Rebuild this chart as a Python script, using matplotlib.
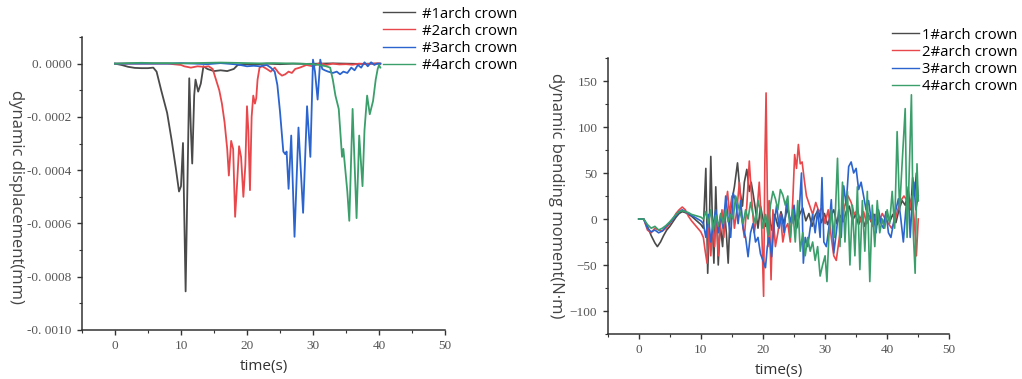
import matplotlib
matplotlib.use("Agg")
import matplotlib.pyplot as plt
from matplotlib.ticker import MultipleLocator, FuncFormatter

# ---------------- dynamic displacement (mm) ----------------
disp_labels = ["#1arch crown", "#2arch crown", "#3arch crown", "#4arch crown"]

disp_t1 = [0, 1, 2, 3, 4, 5, 5.8, 6.3, 7.0, 7.9, 8.6, 9.2, 9.7, 10.0, 10.3,
           10.7, 11.25, 11.5, 11.7, 12.0, 12.2, 12.6, 13.0, 13.4, 14.0, 15.0,
           16.0, 17.0, 18.0, 18.6, 19.5, 21, 23, 25, 27, 29, 31, 33, 35, 37,
           39, 40.2]
disp_v1 = [0, -0.05e-4, -0.12e-4, -0.16e-4, -0.17e-4, -0.17e-4, -0.15e-4,
           -0.3e-4, -1.0e-4, -1.85e-4, -2.9e-4, -3.9e-4, -4.8e-4, -4.6e-4,
           -2.98e-4, -8.55e-4, -0.55e-4, -2.5e-4, -3.75e-4, -1.2e-4, -0.6e-4,
           -1.05e-4, -0.75e-4, -0.1e-4, -0.2e-4, -0.28e-4, -0.25e-4, -0.28e-4,
           -0.2e-4, -0.05e-4, -0.02e-4, -0.03e-4, 0, -0.02e-4, 0, -0.01e-4, 0,
           0.01e-4, 0, -0.01e-4, 0, 0]

disp_t2 = [0, 2, 4, 6, 8, 10, 10.5, 11.5, 12.5, 13.5, 14.2, 14.8, 15.3, 15.8,
           16.2, 16.6, 17.0, 17.25, 17.6, 17.9, 18.2, 18.5, 18.8, 19.1, 19.45,
           19.75, 20.0, 20.2, 20.45, 20.7, 20.95, 21.2, 21.4, 21.6, 21.9, 22.3,
           23.0, 23.6, 24.2, 24.8, 25.3, 25.8, 26.3, 26.8, 27.3, 28, 29, 30, 31,
           32, 33, 34, 35, 36, 37, 38, 39, 40, 40.2]
disp_v2 = [0, 0, 0, 0, 0, -0.05e-4, -0.1e-4, -0.15e-4, -0.1e-4, -0.12e-4,
           -0.1e-4, -0.2e-4, -0.6e-4, -1.0e-4, -1.5e-4, -2.2e-4, -3.2e-4,
           -4.2e-4, -2.9e-4, -3.2e-4, -5.75e-4, -4.5e-4, -3.1e-4, -3.5e-4,
           -5.0e-4, -3.8e-4, -1.6e-4, -2.5e-4, -4.75e-4, -2.0e-4, -1.2e-4,
           -1.5e-4, -1.3e-4, -0.6e-4, -0.15e-4, -0.1e-4, -0.2e-4, -0.3e-4,
           -0.15e-4, -0.35e-4, -0.45e-4, -0.4e-4, -0.3e-4, -0.35e-4, -0.2e-4,
           -0.15e-4, -0.05e-4, -0.1e-4, 0.02e-4, -0.05e-4, 0, -0.03e-4,
           -0.02e-4, -0.04e-4, 0, -0.02e-4, 0, 0.01e-4, 0]

disp_t3 = [0, 2, 4, 6, 8, 10, 12, 14, 16, 18, 19, 20, 21, 22, 23, 23.6, 24.2,
           24.6, 25.0, 25.5, 25.8, 26.0, 26.3, 26.7, 27.2, 27.8, 28.5, 29.1,
           29.6, 30.0, 30.3, 30.7, 31.1, 31.4, 31.8, 32.3, 33, 33.6, 34.1,
           34.6, 35.2, 35.8, 36.3, 36.8, 37.3, 37.8, 38.3, 38.8, 39.3, 39.7,
           40.2]
disp_v3 = [0, 0, 0, 0, 0, 0.02e-4, 0, -0.02e-4, 0.02e-4, -0.02e-4, -0.05e-4,
           -0.1e-4, -0.08e-4, -0.1e-4, -0.05e-4, -0.15e-4, -0.3e-4, -0.8e-4,
           -1.8e-4, -3.3e-4, -3.4e-4, -3.3e-4, -4.7e-4, -2.7e-4, -6.5e-4,
           -2.4e-4, -5.6e-4, -1.6e-4, -3.5e-4, 0.15e-4, -0.3e-4, -1.35e-4,
           0.15e-4, -0.2e-4, -0.25e-4, -0.3e-4, -0.35e-4, -0.3e-4, -0.4e-4,
           -0.3e-4, -0.35e-4, -0.15e-4, -0.25e-4, -0.05e-4, -0.15e-4, 0.05e-4,
           -0.1e-4, 0.05e-4, -0.05e-4, 0, 0]

disp_t4 = [0, 2, 4, 6, 8, 10, 12, 14, 16, 18, 20, 22, 24, 26, 28, 30, 31, 32,
           32.6, 33.0, 33.4, 33.9, 34.4, 34.6, 34.9, 35.2, 35.5, 36.0, 36.6,
           37.0, 37.5, 37.8, 38.2, 38.6, 39.1, 39.5, 39.8, 40.0, 40.2]
disp_v4 = [0, 0.02e-4, 0.03e-4, 0.02e-4, 0.02e-4, 0.01e-4, 0.02e-4, 0.03e-4,
           0.04e-4, 0.03e-4, 0.02e-4, 0.01e-4, 0.02e-4, 0.01e-4, 0, -0.02e-4,
           -0.05e-4, -0.1e-4, -0.15e-4, -0.6e-4, -1.2e-4, -1.7e-4, -3.5e-4,
           -3.2e-4, -4.0e-4, -4.8e-4, -5.9e-4, -1.7e-4, -5.8e-4, -2.7e-4,
           -4.6e-4, -2.5e-4, -1.2e-4, -1.9e-4, -1.4e-4, -0.6e-4, -0.2e-4,
           -0.05e-4, -0.15e-4]

# ---------------- dynamic bending moment (N·m) ----------------
moment_labels = ["1#arch crown", "2#arch crown", "3#arch crown", "4#arch crown"]

mom_t1 = [0, 0.8, 1.4, 2.0, 2.6, 3.0, 3.5, 4.0, 4.5, 5.0, 5.5, 6.0, 6.5, 7.0,
          7.5, 8.0, 8.5, 9.0, 9.5, 10.0,
          10.4, 10.8, 11.1, 11.4, 11.6, 11.9, 12.1, 12.4, 12.8, 13.1, 13.5,
          13.8, 14.1, 14.4, 14.7,
          15.0, 15.4, 15.9, 16.3, 16.7, 17.0, 17.4, 17.8, 18.1, 18.4, 18.8,
          19.2, 19.6, 20.0,
          20.4, 20.9, 21.4, 21.9, 22.4, 22.9, 23.4, 23.9, 24.4, 24.9, 25.4,
          25.9, 26.4, 26.9, 27.4, 27.9, 28.4, 28.9, 29.4, 29.9, 30.4, 30.9,
          31.4, 31.9, 32.4, 32.9, 33.4, 33.9, 34.4, 34.9, 35.4, 35.9, 36.4,
          36.9, 37.4, 37.9, 38.4, 38.9, 39.4, 39.9, 40.4, 40.9, 41.4, 41.9,
          42.4, 42.9, 43.4, 43.8, 44.1, 44.4, 44.7, 45.0]
mom_v1 = [0, 0, -8, -18, -26, -30, -25, -18, -12, -8, -3, 2, 6, 8,
          7, 5, 3, 0, -3, -6,
          -10, 55, -59, 5, 68, -15, -48, 35, -50, -5, -30,
          10, -15, -48, 5,
          20, 35, 61, 30, 14, 40, 54, 30, 40, 28, 10,
          -10, 14, 0,
          -8, 10, -12, 5, -8, 8, -5, 12, -3, 8, -10,
          5, 12, -2, 6, -8, 4, 10, -4, 6, -6, 3,
          10, -5, 4, -3, 8, 14, -2, 5, -6, 4, -8,
          6, -3, 5, -6, 2, -5, 8, -3, 5, -4, 10,
          20, 15, 30, 10, 45, 25, 50, 20]

mom_t2 = [0, 0.8, 1.4, 2.0, 2.6, 3.2, 3.8, 4.4, 5.0, 5.5, 6.0, 6.5, 7.0, 7.5,
          8.0, 8.5, 9.0, 9.5, 10.0,
          10.4, 10.7, 11.0, 11.3, 11.6, 11.9, 12.2, 12.5, 12.8, 13.1, 13.4,
          13.7, 14.0, 14.3, 14.6,
          15.0, 15.4, 15.8, 16.2, 16.6, 17.0, 17.4, 17.8, 18.2, 18.6, 19.0,
          19.4, 19.8,
          20.1, 20.3, 20.5, 20.8, 21.0, 21.3, 21.6, 22.0, 22.4, 22.8, 23.2,
          23.6,
          24.0, 24.4, 24.8, 25.1, 25.4, 25.7, 26.0, 26.3, 26.7, 27.0, 27.5,
          28.0, 28.5, 29.0, 29.5, 30.0, 30.5, 31.0, 31.4, 31.8, 32.2, 32.7,
          33.2, 33.7, 34.2, 34.7, 35.2, 35.7, 36.2, 36.7, 37.2, 37.7, 38.2,
          38.7, 39.2, 39.7, 40.2, 40.7, 41.2, 41.7, 42.2, 42.7, 43.2, 43.6,
          44.0, 44.4, 44.7, 45.0]
mom_v2 = [0, 0, -12, -15, -10, -12, -13, -10, -5, 0, 6, 10, 13, 10,
          3, -2, -6, -10, -14,
          -20, -35, -48, -10, -40, -5, -30, 5, -40, -10, 10,
          -20, 15, 30, 5,
          25, -10, 10, 40, 0, -20, 15, 63, 20, -15, 5,
          40, -10,
          -84, 60, 137, -30, 20, -66, 10, -30, -15, 5, -25,
          -10,
          -5, -25, 20, 70, 55, 81, 60, 62, 40, 25, 15,
          5, 18, 8, 12, -5, 10, -20, -40, -45, -25, 0,
          15, 25, 18, 5, 10, -3, 8, -5, 3, -8, 5,
          -3, 6, 0, -5, -10, -3, 10, 20, 25, 20, 10,
          25, -5, -40, 0]

mom_t3 = [0, 0.8, 1.4, 2.0, 2.6, 3.2, 3.8, 4.4, 5.0, 5.5, 6.0, 6.5, 7.0, 7.5,
          8.0, 8.5, 9.0, 9.5, 10.0,
          10.4, 10.8, 11.2, 11.6, 12.0, 12.4, 12.8, 13.2, 13.6, 14.0, 14.4,
          14.8, 15.2, 15.6, 16.0, 16.4, 16.8, 17.2, 17.6, 18.0, 18.4, 18.8,
          19.2, 19.6, 20.0, 20.4, 20.7, 21.0, 21.4, 21.8, 22.2, 22.6, 23.0,
          23.4, 23.8, 24.2, 24.6, 25.0, 25.4, 25.8, 26.2, 26.5, 26.8, 27.2,
          27.6, 28.0, 28.4, 28.8, 29.2, 29.5, 29.8,
          30.2, 30.6, 31.0, 31.4, 31.8, 32.2, 32.6, 33.0, 33.4, 33.8, 34.2,
          34.6, 35.0, 35.4, 35.8, 36.2, 36.6, 37.0, 37.4, 37.8, 38.2, 38.6,
          39.0, 39.4, 39.8, 40.2, 40.6, 41.0, 41.4, 41.8, 42.2, 42.6, 43.0,
          43.4, 43.7, 44.0, 44.3, 44.6, 45.0]
mom_v3 = [0, 0, -10, -14, -12, -15, -13, -8, -4, 0, 4, 8, 10, 8,
          6, 4, 2, 0, -2,
          -5, -20, 5, -25, -5, 10, -15, 5, -10, 25, 0,
          -20, 28, 20, -5, 20, -10, -20, -41, -15, -5, -25,
          -20, -38, -45, -53, -30, -20, -41, -5, 15, -10, 5,
          -15, 20, 5, -5, 15, -10, 5, 50, -48, -20, -30,
          -10, 5, -15, 10, -20, 45, -25,
          -30, -10, 21, -37, -15, 10, -20, 36, 15, 57, 62,
          50, 55, 32, 40, 25, 10, 20, 0, 5, -15, 10,
          -5, -10, 8, -15, -20, -5, 10, 22, 0, -25, 10,
          35, -20, 15, 40, 10, 25]

mom_t4 = [0, 0.8, 1.4, 2.0, 2.6, 3.2, 3.8, 4.4, 5.0, 5.5, 6.0, 6.5, 7.0, 7.5,
          8.0, 8.5, 9.0, 9.5, 10.0,
          10.4, 10.8, 11.2, 11.6, 12.0, 12.4, 12.8, 13.2, 13.6, 14.0, 14.4,
          14.8, 15.2, 15.6, 16.0, 16.4, 16.8, 17.2, 17.6, 18.0, 18.4, 18.8,
          19.2, 19.6, 20.0, 20.4, 20.8, 21.2, 21.6, 22.0, 22.4, 22.8, 23.2,
          23.6, 24.0, 24.4, 24.8, 25.2, 25.6, 26.0, 26.4, 26.8, 27.2, 27.6,
          28.0, 28.4, 28.8, 29.2, 29.6, 30.0, 30.3, 30.6,
          31.0, 31.5, 32.0, 32.4, 32.8, 33.2, 33.6, 34.0, 34.4, 34.8, 35.2,
          35.6, 36.0, 36.4, 36.8, 37.2, 37.6, 38.0, 38.4, 38.8, 39.2, 39.6,
          40.0, 40.4, 40.8, 41.2, 41.6, 42.0, 42.4, 42.9, 43.2, 43.5, 43.9,
          44.2, 44.5, 44.8, 45.0]
mom_v4 = [0, 0, -6, -10, -8, -12, -10, -7, -3, 1, 5, 8, 9, 8,
          7, 5, 4, 3, 2,
          0, 8, -5, 10, -12, 4, -8, 6, -5, 10, -3,
          5, 0, 25, 15, 5, -5, 10, 0, 18, 5, -5,
          20, 8, -10, 5, -18, 15, 30, 22, 10, 32, 26,
          15, 25, -20, 10, -25, 20, -35, -15, -40, -20, -35,
          -25, -45, -30, -62, -50, -40, -68, -20,
          10, -20, 66, -30, 40, -25, 30, -50, 15, -40, 35,
          -55, 20, -35, 30, -68, 15, -30, 20, -15, 0, -10,
          10, -5, 30, -10, 95, 10, 60, 120, -20, 40, 135,
          -15, -59, 60, 20]

colors = ["#4a4a4a", "#e8474b", "#2b64cf", "#3a9f6b"]

TICK_FAMILY = "Liberation Serif"
TEXT_FAMILY = "Open Sans"
W, H = 1022, 379

fig = plt.figure(figsize=(W / 100, H / 100), dpi=100)
ax1 = fig.add_axes([82 / W, 1 - 330 / H, 363 / W, 293 / H])
ax2 = fig.add_axes([607.7 / W, 1 - 334 / H, 341.6 / W, 276 / H])


def style_axes(ax):
    for side in ("top", "right"):
        ax.spines[side].set_visible(False)
    for side in ("left", "bottom"):
        ax.spines[side].set_color("#333333")
        ax.spines[side].set_linewidth(1.1)
    ax.tick_params(which="major", direction="out", length=3.5, width=1.0,
                   color="#333333", pad=4)
    ax.tick_params(which="minor", direction="out", length=2, width=0.8,
                   color="#333333")
    ax.xaxis.set_major_locator(MultipleLocator(10))
    ax.xaxis.set_minor_locator(MultipleLocator(5))
    ax.set_xlim(-5, 50)
    for lbl in ax.get_xticklabels() + ax.get_yticklabels():
        lbl.set_fontfamily(TICK_FAMILY)
        lbl.set_fontsize(9.5)
        lbl.set_color("#555555")
    ax.set_xlabel("time(s)", fontfamily=TEXT_FAMILY, fontsize=11,
                  color="#333333", labelpad=5)


def add_legend(ax, x_px, y_px, handlelength, textpad):
    ax.legend(loc="upper left", bbox_to_anchor=(x_px / W, 1 - y_px / H),
              bbox_transform=fig.transFigure, frameon=False, borderpad=0,
              borderaxespad=0, handlelength=handlelength,
              handletextpad=textpad, labelspacing=0.14,
              prop=dict(family=TEXT_FAMILY, size=10.7))
    for line in ax.get_legend().get_lines():
        line.set_linewidth(1.0)


# left panel: displacement
disp_series = [(disp_t1, disp_v1), (disp_t2, disp_v2),
               (disp_t3, disp_v3), (disp_t4, disp_v4)]
for (t, v), c, lab in zip(disp_series, colors, disp_labels):
    ax1.plot(t, v, color=c, lw=1.3, label=lab)
ax1.set_ylim(-0.001, 0.0001)
ax1.yaxis.set_major_locator(MultipleLocator(0.0002))
ax1.yaxis.set_minor_locator(MultipleLocator(0.0001))
ax1.yaxis.set_major_formatter(
    FuncFormatter(lambda v, p: ("%.4f" % v).replace("-0.0000", "0.0000")
                  .replace(".", ". ")))
style_axes(ax1)
ax1.set_ylabel("dynamic displacement(mm)", rotation=270,
               fontfamily=TEXT_FAMILY, fontsize=12, color="#444444")
ax1.yaxis.set_label_coords(-0.205, 0.455)
add_legend(ax1, 383, 6.6, 2.15, 0.45)

# right panel: bending moment
mom_series = [(mom_t1, mom_v1), (mom_t2, mom_v2),
              (mom_t3, mom_v3), (mom_t4, mom_v4)]
for (t, v), c, lab in zip(mom_series, colors, moment_labels):
    ax2.plot(t, v, color=c, lw=1.2, label=lab)
ax2.set_ylim(-125, 175)
ax2.yaxis.set_major_locator(MultipleLocator(50))
ax2.yaxis.set_minor_locator(MultipleLocator(25))
style_axes(ax2)
ax2.set_ylabel("dynamic bending moment(N·m)", rotation=270,
               fontfamily=TEXT_FAMILY, fontsize=12, color="#444444")
ax2.yaxis.set_label_coords(-0.176, 0.5)
add_legend(ax2, 891.7, 27.6, 1.86, 0.16)

fig.savefig("out.png", dpi=100)
